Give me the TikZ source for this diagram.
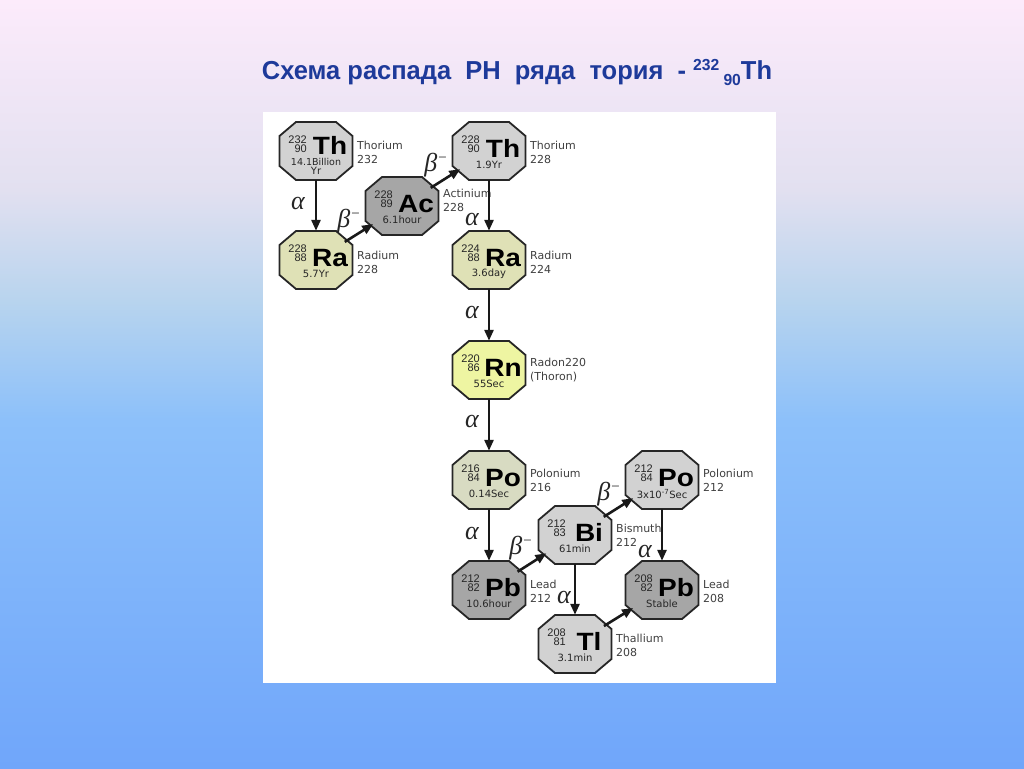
\documentclass[tikz,border=0pt]{standalone}
\usepackage{fontspec}
\setmainfont{DejaVu Sans}
\newfontfamily\lib{Liberation Sans}
\newfontfamily\grk{Liberation Serif}
\usetikzlibrary{arrows.meta,shapes.geometric,calc,backgrounds}
\definecolor{bgA}{HTML}{FCEBFB}
\definecolor{bgB}{HTML}{E2E0F0}
\definecolor{bgC}{HTML}{B8D4EE}
\definecolor{bgD}{HTML}{8CC0FA}
\definecolor{bgE}{HTML}{70A6FA}
\definecolor{gl}{HTML}{D2D2D2}
\definecolor{gd}{HTML}{A6A6A6}
\definecolor{ol}{HTML}{DFE1B6}
\definecolor{yl}{HTML}{EEF5A2}
\definecolor{gg}{HTML}{D8DBC2}
\definecolor{tblue}{HTML}{1E3A9A}
\tikzset{
  nucl/.style={ellipse, minimum width=73pt, minimum height=58pt, inner sep=0pt, draw=none},
  octline/.style={draw=black!85, line width=1.8pt, line join=miter},
  numtxt/.style={font=\lib\fontsize{11}{9.5}\selectfont, align=right, inner sep=0pt, text=black!85},
  symtxt/.style={font=\lib\fontsize{25}{25}\selectfont\bfseries, inner sep=0pt, text height=18pt, text depth=0pt},
  halftxt/.style={font=\fontsize{10}{9}\selectfont, align=center, inner sep=0pt, text=black!85},
  nametxt/.style={font=\fontsize{11}{14}\selectfont, align=left, inner sep=0pt, text=black!75, anchor=west},
  decay/.style={line width=2.6pt, draw=black!90, -{Triangle[length=11pt,width=9pt]}},
  dlab/.style={font=\grk\itshape\fontsize{26}{26}\selectfont, inner sep=0pt, text=black!85},
}
\newcommand{\symdy}{-3}
\newcommand{\halfdy}{14}
% name, position, mass, Z, symbol, half-life, label, fill, label y-offset
\newcommand{\nuc}[9]{%
  \node[nucl] (#1) at (#2) {};
  \node[numtxt, anchor=east] (#1m) at ($(#1)+(-9,-7)$) {#3\\#4};
  \node[symtxt] (#1s) at ($(#1)+(14,\symdy)$) {\scalebox{1.12}[1]{#5}};
  \node[halftxt] (#1h) at ($(#1)+(0,\halfdy)$) {#6};
  \node[nametxt] (#1l) at ($(#1)+(41,#9)$) {#7};
  \begin{scope}[on background layer]
    \filldraw[octline, fill=#8] (#1.center) ++(-20,-29) -- ++(40,0) -- ++(16.5,14) -- ++(0,30)
      -- ++(-16.5,14) -- ++(-40,0) -- ++(-16.5,-14) -- ++(0,-30) -- cycle;
  \end{scope}
}
\newcommand{\bmin}{β\raisebox{9pt}{\fontsize{15}{15}\selectfont −}}
\begin{document}
\begin{tikzpicture}[x=1pt,y=-1pt]
\begin{scope}[on background layer]
  \shade[top color=bgA, bottom color=bgB] (0,0) rectangle (1024,191);
  \shade[top color=bgB, bottom color=bgC] (0,190) rectangle (1024,301);
  \shade[top color=bgC, bottom color=bgD] (0,300) rectangle (1024,421);
  \shade[top color=bgD, bottom color=bgE] (0,420) rectangle (1024,768);
  \fill[white] (263,112) rectangle (776,683);
\end{scope}
\useasboundingbox (0,0) rectangle (1024,768);

\node[font=\lib\fontsize{26}{26}\selectfont\bfseries, text=tblue, inner sep=0pt, anchor=base] (title) at (517,79)
  {\scalebox{0.98}[1]{Схема распада\ \ РН\ \ ряда\ \ тория\ \ - \raisebox{9pt}{\fontsize{16}{16}\selectfont 232}\,\raisebox{-6pt}{\fontsize{16}{16}\selectfont 90}Th}};

\renewcommand{\symdy}{-6}\renewcommand{\halfdy}{15}
\nuc{th232}{316,151}{232}{90}{Th}{\fontsize{9.5}{9}\selectfont 14.1Billion\\Yr}{Thorium\\232}{gl}{1}
\renewcommand{\symdy}{-3}\renewcommand{\halfdy}{14}
\nuc{ra228}{316,260}{228}{88}{Ra}{5.7Yr}{Radium\\228}{ol}{2}
\nuc{ac228}{402,206}{228}{89}{Ac}{6.1hour}{Actinium\\228}{gd}{-6}
\nuc{th228}{489,151}{228}{90}{Th}{1.9Yr}{Thorium\\228}{gl}{1}
\nuc{ra224}{489,260}{224}{88}{Ra}{3.6day}{Radium\\224}{ol}{2}
\nuc{rn220}{489,370}{220}{86}{Rn}{55Sec}{Radon220\\(Thoron)}{yl}{0}
\nuc{po216}{489,480}{216}{84}{Po}{0.14Sec}{Polonium\\216}{gg}{0}
\nuc{bi212}{575,535}{212}{83}{Bi}{61min}{Bismuth\\212}{gl}{0}
\nuc{po212}{662,480}{212}{84}{Po}{3x10\textsuperscript{-7}Sec}{Polonium\\212}{gl}{0}
\nuc{pb212}{489,590}{212}{82}{Pb}{10.6hour}{Lead\\212}{gd}{1}
\nuc{pb208}{662,590}{208}{82}{Pb}{Stable}{Lead\\208}{gd}{1}
\nuc{tl208}{575,644}{208}{81}{Tl}{3.1min}{Thallium\\208}{gl}{1}

\draw[decay] (th232) -- (ra228);
\draw[decay] (ra228) -- (ac228);
\draw[decay] (ac228) -- (th228);
\draw[decay] (th228) -- (ra224);
\draw[decay] (ra224) -- (rn220);
\draw[decay] (rn220) -- (po216);
\draw[decay] (po216) -- (pb212);
\draw[decay] (pb212) -- (bi212);
\draw[decay] (bi212) -- (po212);
\draw[decay] (po212) -- (pb208);
\draw[decay] (bi212) -- (tl208);
\draw[decay] (tl208) -- (pb208);

\node[dlab] (a1) at (298,203) {α};
\node[dlab] (b1) at (349,221) {\bmin};
\node[dlab] (b2) at (436,165) {\bmin};
\node[dlab] (a2) at (472,219) {α};
\node[dlab] (a3) at (472,312) {α};
\node[dlab] (a4) at (472,421) {α};
\node[dlab] (a5) at (472,533) {α};
\node[dlab] (b3) at (521,548) {\bmin};
\node[dlab] (b4) at (609,494) {\bmin};
\node[dlab] (a6) at (645,551) {α};
\node[dlab] (a7) at (564,597) {α};
\end{tikzpicture}
\end{document}
